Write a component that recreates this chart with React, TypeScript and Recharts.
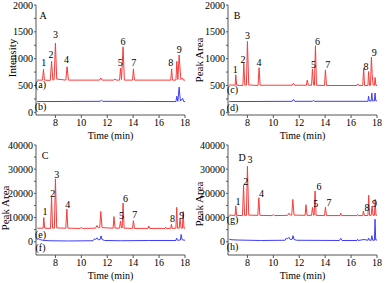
import React from 'react';
import { LineChart, Line, XAxis, YAxis, ReferenceDot } from 'recharts';

// retention time (min), signal
const traceA: [number, number][] = [
  [6.6, 600], [7.0, 600], [7.08, 800], [7.15, 600], [7.6, 595], [7.7, 950], [7.8, 600],
  [7.9, 610], [8.0, 1290], [8.1, 620], [8.8, 600], [8.9, 850], [9.0, 600], [11.4, 600],
  [11.5, 640], [11.6, 600], [12.5, 600], [12.6, 620], [12.7, 600], [12.95, 600], [13.02, 820],
  [13.1, 610], [13.22, 1220], [13.32, 600], [13.95, 600], [14.02, 810], [14.1, 600], [16.9, 600],
  [16.97, 810], [17.03, 600], [17.3, 600], [17.37, 950], [17.45, 610], [17.55, 1070], [17.6, 870],
  [17.68, 610], [17.8, 640], [17.88, 600], [18, 600],
];
const traceB: [number, number][] = [
  [6.6, 200], [11.45, 205], [11.55, 225], [11.65, 205], [17.3, 200], [17.37, 300], [17.45, 205],
  [17.55, 470], [17.6, 320], [17.65, 210], [17.82, 260], [17.9, 200], [18, 200],
];
const traceC: [number, number][] = [
  [6.6, 510], [7.05, 505], [7.1, 700], [7.17, 505], [7.65, 500], [7.72, 915], [7.8, 505],
  [7.92, 510], [8.0, 1320], [8.1, 510], [8.82, 500], [8.9, 830], [8.98, 505], [11.45, 505],
  [11.55, 540], [11.65, 505], [12.55, 505], [12.62, 600], [12.7, 505], [12.95, 505], [13.02, 810],
  [13.1, 510], [13.17, 500], [13.25, 1240], [13.33, 505], [13.95, 500], [14.02, 790], [14.1, 500],
  [16.45, 500], [16.52, 530], [16.6, 500], [16.9, 500], [16.97, 820], [17.04, 500], [17.3, 500],
  [17.35, 760], [17.42, 500], [17.5, 505], [17.57, 1030], [17.63, 700], [17.7, 510], [17.8, 505],
  [17.85, 650], [17.92, 500], [18, 500],
];
const traceD: [number, number][] = [
  [6.6, 200], [11.45, 205], [11.55, 240], [11.65, 205], [13.0, 205], [13.1, 220], [13.2, 205],
  [17.3, 205], [17.35, 300], [17.4, 210], [17.55, 210], [17.6, 360], [17.65, 215], [17.8, 215],
  [17.85, 360], [17.9, 215], [18, 215],
];
const traceE: [number, number][] = [
  [6.6, 5600], [7.05, 5600], [7.1, 10000], [7.17, 5600], [7.62, 5500], [7.7, 18500], [7.78, 5600],
  [7.92, 5600], [8.0, 26000], [8.1, 5700], [8.8, 5600], [8.88, 13500], [8.96, 5600], [9.9, 5500],
  [10.0, 5900], [10.1, 5500], [11.1, 5600], [11.2, 6700], [11.3, 5800], [11.42, 5800], [11.5, 12500],
  [11.6, 5800], [12.45, 5600], [12.52, 10400], [12.6, 5600], [12.95, 5600], [13.02, 8600],
  [13.1, 5700], [13.15, 5700], [13.22, 16000], [13.3, 5600], [13.95, 5500], [14.02, 8700],
  [14.1, 5500], [15.15, 5500], [15.2, 6500], [15.28, 5500], [16.45, 5500], [16.5, 6000],
  [16.55, 5500], [16.9, 5500], [16.95, 7200], [17.02, 5500], [17.3, 5600], [17.36, 14200],
  [17.42, 5600], [17.55, 5600], [17.62, 9700], [17.7, 5600], [17.8, 5600], [17.86, 12500],
  [17.92, 5600], [18, 5600],
];
const traceF: [number, number][] = [
  [6.6, 1500], [6.8, 900], [7.0, 600], [7.5, 400], [9.0, 300], [10.9, 400], [11.0, 1200],
  [11.1, 900], [11.2, 1600], [11.3, 800], [11.45, 900], [11.52, 2400], [11.6, 900], [11.8, 500],
  [13.0, 400], [15.2, 500], [17.3, 500], [17.35, 1500], [17.42, 600], [17.65, 700], [17.7, 3000],
  [17.78, 800], [18, 600],
];
const traceG: [number, number][] = [
  [6.6, 11000], [7.05, 10900], [7.1, 14800], [7.17, 10900], [7.62, 10800], [7.7, 23400],
  [7.78, 10900], [7.92, 10900], [8.0, 31200], [8.1, 11000], [8.8, 10900], [8.88, 18200],
  [8.96, 10900], [9.9, 10800], [10.0, 11200], [10.1, 10800], [11.1, 10900], [11.2, 11800],
  [11.3, 11000], [11.42, 11000], [11.5, 17500], [11.6, 11000], [12.45, 10900], [12.52, 15300],
  [12.6, 10900], [12.95, 10900], [13.02, 14200], [13.1, 11000], [13.15, 11000], [13.22, 21000],
  [13.3, 10900], [13.95, 10800], [14.02, 14200], [14.1, 10800], [15.15, 10800], [15.2, 11800],
  [15.28, 10800], [16.45, 10800], [16.5, 11300], [16.55, 10800], [16.9, 10800], [16.95, 12700],
  [17.02, 10800], [17.3, 10900], [17.36, 19200], [17.42, 10900], [17.55, 10900], [17.62, 14700],
  [17.7, 10900], [17.8, 10900], [17.86, 17500], [17.92, 10900], [18, 10900],
];
const traceH: [number, number][] = [
  [6.6, 1000], [6.8, 800], [7.2, 700], [9.0, 500], [10.9, 600], [11.0, 1500], [11.1, 1200],
  [11.2, 1800], [11.3, 900], [11.45, 1000], [11.52, 2500], [11.6, 900], [11.8, 600], [15.1, 500],
  [15.2, 1400], [15.3, 500], [16.45, 500], [16.5, 1000], [16.55, 500], [17.0, 900], [17.3, 600],
  [17.35, 1500], [17.42, 600], [17.55, 600], [17.6, 2500], [17.67, 600], [17.8, 600], [17.85, 9300],
  [17.9, 700], [18, 700],
];

// peak number positions [time, signal]
const peaksA: [number, number][] = [
  [7.1, 930], [7.66, 1086], [8.0, 1445], [8.85, 993], [13.0, 930], [13.22, 1320], [14.05, 930],
  [16.9, 930], [17.56, 1180],
];
const peaksB: [number, number][] = [
  [7.05, 795], [7.66, 993], [8.0, 1427], [8.9, 930], [13.09, 900], [13.4, 1320], [14.2, 900],
  [17.15, 860], [17.78, 1110],
];
const peaksC: [number, number][] = [
  [7.2, 12500], [7.8, 20150], [8.1, 28000], [8.96, 15300], [13.09, 10700], [13.4, 17800],
  [14.12, 11100], [17.04, 9450], [17.74, 10700],
];
const peaksD: [number, number][] = [
  [7.28, 16850], [7.87, 25100], [8.2, 34000], [9.08, 20000], [13.27, 15750], [13.53, 23000],
  [14.3, 16400], [17.22, 14100], [17.8, 15900],
];
const peakNames = ['1', '2', '3', '4', '5', '6', '7', '8', '9'];

const xTicks = [7, 8, 9, 10, 11, 12, 13, 14, 15, 16, 17, 18];
const yTicksLow = [0, 250, 500, 750, 1000, 1250, 1500, 1750, 2000];
const yTicksHigh = [0, 5000, 10000, 15000, 20000, 25000, 30000, 35000, 40000];

const FONT = '"Liberation Serif", "Times New Roman", serif';
const RED = '#f93b3b';
const BLUE = '#3d3dfa';

const toRows = (pts: [number, number][]) => pts.map(([t, v]) => ({ t, v }));

const XTick = ({ x, y, payload }: any) => {
  if (payload.value % 2 !== 0) return null;
  return (
    <text x={x} y={y} dy="0.75em" textAnchor="middle" fontSize={10} fontFamily={FONT} fill="#000">
      {payload.value}
    </text>
  );
};

const makeYTick = (step: number) => ({ x, y, payload }: any) => {
  if (payload.value % step !== 0) return null;
  return (
    <text x={x} y={y} dy="0.35em" textAnchor="end" fontSize={10} fontFamily={FONT} fill="#000">
      {payload.value}
    </text>
  );
};

interface PanelProps {
  letter: string;
  letterPos: [number, number];
  yLabel: string;
  yLabelPos: [number, number];
  domain: [number, number];
  yTicks: number[];
  majorStep: number;
  red: [number, number][];
  blue: [number, number][];
  peaks: [number, number][];
  traceLabels: { t: number; v: number; text: string }[];
}

const Panel: React.FC<PanelProps> = ({ letter, letterPos, yLabel, yLabelPos, domain, yTicks, majorStep, red, blue, peaks, traceLabels }) => {
  const YLabel = () => (
    <text
      x={yLabelPos[0]}
      y={yLabelPos[1]}
      transform={`rotate(-90 ${yLabelPos[0]} ${yLabelPos[1]})`}
      textAnchor="middle"
      dominantBaseline="central"
      fontSize={11}
      fontFamily={FONT}
      fill="#000"
    >
      {yLabel}
    </text>
  );
  const YTick = makeYTick(majorStep);
  const txt = (value: string) => ({ value, position: 'center' as const, fontSize: 10, fontFamily: FONT, fill: '#000' });

  return (
    <LineChart width={193} height={141} margin={{ top: 5, right: 8, left: 0, bottom: 0 }}>
      <XAxis
        dataKey="t"
        type="number"
        domain={[6.5, 18]}
        ticks={xTicks}
        allowDataOverflow
        tickSize={3}
        tickMargin={0}
        height={26}
        stroke="#555"
        tick={<XTick />}
        label={{ value: 'Time (min)', position: 'insideBottom', offset: 2, fontSize: 10, fontFamily: FONT, fill: '#000' }}
      />
      <XAxis xAxisId="top" orientation="top" type="number" domain={[6.5, 18]} height={0} tick={false} tickLine={false} stroke="#888" />
      <YAxis
        type="number"
        domain={domain}
        ticks={yTicks}
        allowDataOverflow
        width={36}
        tickSize={2}
        tickMargin={1}
        stroke="#555"
        interval={0}
        tick={<YTick />}
        label={<YLabel />}
      />
      <YAxis yAxisId="right" orientation="right" type="number" domain={[0, 1]} width={0} tick={false} tickLine={false} stroke="#888" />
      <Line data={toRows(red)} dataKey="v" type="linear" stroke={RED} strokeWidth={1} dot={false} isAnimationActive={false} />
      <Line data={toRows(blue)} dataKey="v" type="linear" stroke={BLUE} strokeWidth={1} dot={false} isAnimationActive={false} />
      {peaks.map(([t, v], i) => (
        <ReferenceDot key={i} x={t} y={v} r={0} fill="none" stroke="none" label={txt(peakNames[i])} />
      ))}
      {traceLabels.map((l, i) => (
        <ReferenceDot key={'l' + i} x={l.t} y={l.v} r={0} fill="none" stroke="none" label={txt(l.text)} />
      ))}
      <ReferenceDot x={letterPos[0]} y={letterPos[1]} r={0} fill="none" stroke="none" label={txt(letter)} />
    </LineChart>
  );
};

export default function App() {
  return (
    <div style={{ position: 'absolute', left: 0, top: 0, width: 387, height: 283, background: '#fff' }}>
      <div style={{ position: 'absolute', left: 0, top: 0 }}>
        <Panel
          letter="A" letterPos={[7.04, 1814]} yLabel="Intensity" yLabelPos={[12, 58]}
          domain={[-50, 2000]} yTicks={yTicksLow} majorStep={500} red={traceA} blue={traceB} peaks={peaksA}
          traceLabels={[{ t: 6.85, v: 515, text: '(a)' }, { t: 6.85, v: 112, text: '(b)' }]}
        />
      </div>
      <div style={{ position: 'absolute', left: 192, top: 0 }}>
        <Panel
          letter="B" letterPos={[7.2, 1814]} yLabel="Peak Area" yLabelPos={[7, 60]}
          domain={[-50, 2000]} yTicks={yTicksLow} majorStep={500} red={traceC} blue={traceD} peaks={peaksB}
          traceLabels={[{ t: 6.85, v: 435, text: '(c)' }, { t: 6.85, v: 87, text: '(d)' }]}
        />
      </div>
      <div style={{ position: 'absolute', left: 0, top: 140 }}>
        <Panel
          letter="C" letterPos={[7.2, 35864]} yLabel="Peak Area" yLabelPos={[5, 68]}
          domain={[-5500, 40000]} yTicks={yTicksHigh} majorStep={10000} red={traceE} blue={traceF} peaks={peaksC}
          traceLabels={[{ t: 6.85, v: 2800, text: '(e)' }, { t: 6.85, v: -2360, text: '(f)' }]}
        />
      </div>
      <div style={{ position: 'absolute', left: 192, top: 140 }}>
        <Panel
          letter="D" letterPos={[7.58, 35000]} yLabel="Peak Area" yLabelPos={[7, 64]}
          domain={[-5500, 40000]} yTicks={yTicksHigh} majorStep={10000} red={traceG} blue={traceH} peaks={peaksD}
          traceLabels={[{ t: 6.85, v: 9000, text: '(g)' }, { t: 6.85, v: -2050, text: '(h)' }]}
        />
      </div>
    </div>
  );
}
